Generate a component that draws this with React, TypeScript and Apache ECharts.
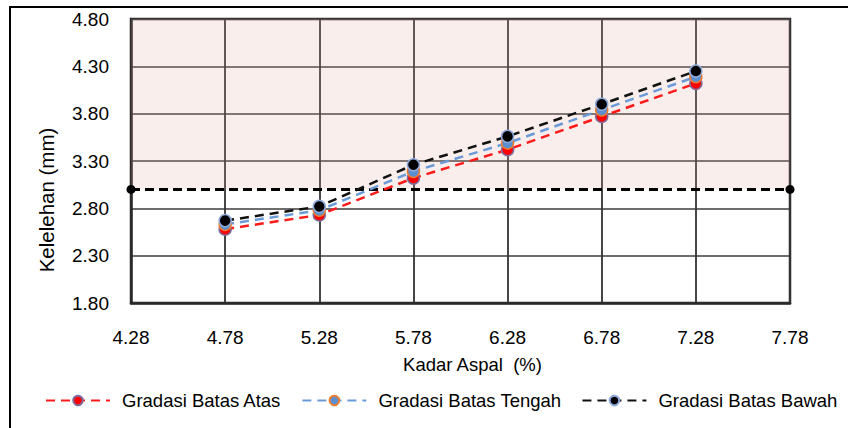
import React, { useEffect, useRef } from "react";
import * as echarts from "echarts";

const xValues = [4.78, 5.28, 5.78, 6.28, 6.78, 7.28];
const atas = [2.58, 2.73, 3.12, 3.42, 3.77, 4.12];
const tengah = [2.63, 2.78, 3.19, 3.49, 3.84, 4.19];
const bawah = [2.67, 2.82, 3.26, 3.56, 3.9, 4.25];
const thresholdX = [4.28, 7.78];
const thresholdY = 3.0;
const yRange = [1.8, 4.8];
const seriesNames = ["Gradasi Batas Atas", "Gradasi Batas Tengah", "Gradasi Batas Bawah"];

const FONT = "'Liberation Sans', Arial, sans-serif";

export default function App() {
  const ref = useRef<HTMLDivElement>(null);
  useEffect(() => {
    if (!ref.current) return;
    const chart = echarts.init(ref.current, null, { renderer: "svg" });
    const pairs = (ys: number[]) => xValues.map((x, i) => [x, ys[i]]);
    const dash = [9, 6];
    const mk = (name: string, ys: number[], line: string, fill: string, border: string, z: number) => ({
      name,
      type: "line",
      data: pairs(ys),
      z,
      symbol: "circle",
      symbolSize: 12,
      lineStyle: { color: line, width: 2.5, type: dash },
      itemStyle: { color: fill, borderColor: border, borderWidth: 1.5 },
    });
    chart.setOption({
      animation: false,
      textStyle: { fontFamily: FONT },
      graphic: [
        {
          type: "rect",
          shape: { x: 10, y: 7, width: 860, height: 440 },
          style: { fill: "none", stroke: "#000", lineWidth: 2 },
          silent: true,
        },
      ],
      grid: {
        left: 131,
        top: 19,
        right: 58,
        bottom: 125,
        show: true,
        borderColor: "#2a2a2a",
        borderWidth: 2.5,
      },
      legend: {
        data: seriesNames,
        top: 386,
        left: 40,
        itemWidth: 64,
        itemHeight: 12,
        itemGap: 20,
        textStyle: { fontSize: 18.5, color: "#000", fontFamily: FONT, padding: [0, 0, 0, 7] },
      },
      xAxis: {
        type: "value",
        min: thresholdX[0],
        max: thresholdX[1],
        interval: 0.5,
        name: "Kadar Aspal  (%)",
        nameLocation: "middle",
        nameGap: 52,
        nameTextStyle: { fontSize: 18.5, color: "#000", fontFamily: FONT, padding: [0, 0, 0, 24] },
        axisLine: { show: true, lineStyle: { color: "#2a2a2a", width: 2.5 } },
        axisTick: { show: false },
        axisLabel: {
          fontSize: 19,
          color: "#000",
          margin: 25,
          fontFamily: FONT,
          formatter: (v: number) => v.toFixed(2),
        },
        splitLine: { show: true, lineStyle: { color: "#333333", width: 1.8 } },
      },
      yAxis: {
        type: "value",
        min: yRange[0],
        max: yRange[1],
        interval: 0.5,
        name: "Kelelehan (mm)",
        nameLocation: "middle",
        nameRotate: 90,
        nameGap: 74,
        nameTextStyle: { fontSize: 20.5, color: "#000", fontFamily: FONT, padding: [0, 78, 0, 0] },
        axisLine: { show: true, lineStyle: { color: "#2a2a2a", width: 2.5 } },
        axisTick: { show: false },
        axisLabel: {
          fontSize: 19,
          color: "#000",
          margin: 22,
          fontFamily: FONT,
          formatter: (v: number) => v.toFixed(2),
        },
        splitLine: { show: true, lineStyle: { color: "#3c3c3c", width: 1.5 } },
      },
      series: [
        {
          name: "shade",
          type: "line",
          data: [],
          z: 1,
          silent: true,
          markArea: {
            silent: true,
            itemStyle: { color: "rgba(220,160,150,0.18)" },
            data: [[{ yAxis: thresholdY }, { yAxis: yRange[1] }]],
          },
        },
        {
          name: "threshold",
          type: "line",
          data: thresholdX.map((x) => [x, thresholdY]),
          z: 3,
          symbol: "circle",
          symbolSize: 9,
          lineStyle: { color: "#000", width: 3, type: [9, 5] },
          itemStyle: { color: "#000" },
        },
        mk(seriesNames[0], atas, "#FF1A1A", "#FF0000", "#7E6A9C", 4),
        mk(seriesNames[1], tengah, "#6A9BD8", "#5B8FD0", "#ED7D31", 5),
        mk(seriesNames[2], bawah, "#111111", "#000000", "#8EA9DB", 6),
      ],
    });
    return () => chart.dispose();
  }, []);
  return (
    <div
      ref={ref}
      style={{ position: "fixed", left: 0, top: 0, width: 848, height: 428, background: "#fff" }}
    />
  );
}
